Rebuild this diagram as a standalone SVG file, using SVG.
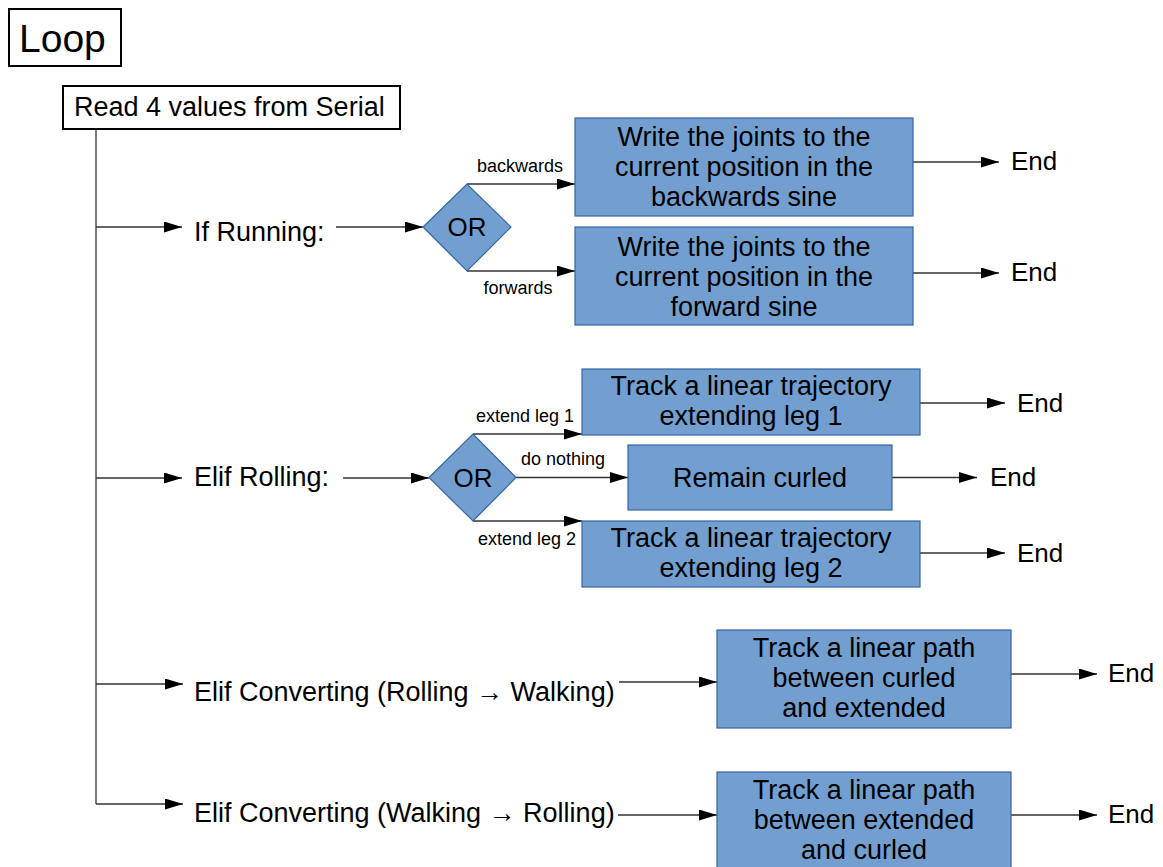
<svg xmlns="http://www.w3.org/2000/svg" width="1163" height="867" viewBox="0 0 1163 867">
<defs>
<marker id="ah" markerUnits="userSpaceOnUse" markerWidth="18" markerHeight="11" refX="18" refY="5.5" orient="auto">
<path d="M0,0 L18,5.5 L0,11 z" fill="#000"/>
</marker>
<style>
text{font-family:"Liberation Sans",Arial,sans-serif;fill:#000}
.big{font-size:27px}
.box{fill:#729fcf;stroke:#3465a4;stroke-width:1.2}
.plain{fill:#fff;stroke:#000;stroke-width:2}
.bt{font-size:27px;text-anchor:middle}
.sm{font-size:18px;text-anchor:middle}
.end{font-size:26px}
.ln{fill:none;stroke:#333;stroke-width:1.3}
.ar{fill:none;stroke:#333;stroke-width:1.3;marker-end:url(#ah)}
</style>
</defs>
<rect width="1163" height="867" fill="#fff"/>

<g id="connectors">
<path class="ln" d="M96,129 V804"/>
<path class="ar" d="M96,227 H182"/>
<path class="ar" d="M336,227 H423"/>
<path class="ar" d="M467,184 H575"/>
<path class="ar" d="M467,271 H575"/>
<path class="ar" d="M913,162 H999"/>
<path class="ar" d="M913,273 H999"/>
<path class="ar" d="M96,478 H182"/>
<path class="ar" d="M343,478 H429"/>
<path class="ar" d="M473,434 H582"/>
<path class="ar" d="M516,477.5 H628"/>
<path class="ar" d="M473,521 H582"/>
<path class="ar" d="M920,403 H1005"/>
<path class="ar" d="M892,477.5 H977"/>
<path class="ar" d="M920,553 H1005"/>
<path class="ar" d="M96,684 H183"/>
<path class="ar" d="M619,682 H717"/>
<path class="ar" d="M1011,674 H1097"/>
<path class="ar" d="M96,804 H183"/>
<path class="ar" d="M618,815 H717"/>
<path class="ar" d="M1011,815 H1097"/>
<text class="sm" x="520" y="172">backwards</text>
<text class="sm" x="518" y="294">forwards</text>
<text class="sm" x="525" y="422">extend leg 1</text>
<text class="sm" x="563" y="465">do nothing</text>
<text class="sm" x="527" y="545">extend leg 2</text>
</g>

<g id="loop">
<rect class="plain" x="9" y="9" width="112" height="57"/>
<text x="19" y="52" font-size="39">Loop</text>
</g>

<g id="read">
<rect class="plain" x="63" y="86" width="337" height="43"/>
<text class="big" x="74" y="116">Read 4 values from Serial</text>
</g>

<g id="if-running">
<text class="big" x="194" y="241">If Running:</text>
</g>
<g id="or1">
<polygon class="box" points="423,227 467,184 511,227 467,271"/>
<text x="467" y="236" font-size="26" text-anchor="middle">OR</text>
</g>
<g id="backwards-box">
<rect class="box" x="575" y="118" width="338" height="98"/>
<text class="bt" x="744" y="146">Write the joints to the</text>
<text class="bt" x="744" y="176">current position in the</text>
<text class="bt" x="744" y="206">backwards sine</text>
</g>
<g id="forward-box">
<rect class="box" x="575" y="227" width="338" height="98"/>
<text class="bt" x="744" y="256">Write the joints to the</text>
<text class="bt" x="744" y="286">current position in the</text>
<text class="bt" x="744" y="316">forward sine</text>
</g>
<g id="end1"><text class="end" x="1011" y="170">End</text></g>
<g id="end2"><text class="end" x="1011" y="281">End</text></g>

<g id="elif-rolling">
<text class="big" x="194" y="486">Elif Rolling:</text>
</g>
<g id="or2">
<polygon class="box" points="429,477.5 473,434 516,477.5 473,521"/>
<text x="473" y="487" font-size="26" text-anchor="middle">OR</text>
</g>
<g id="leg1-box">
<rect class="box" x="582" y="369" width="338" height="66"/>
<text class="bt" x="751" y="395">Track a linear trajectory</text>
<text class="bt" x="751" y="425">extending leg 1</text>
</g>
<g id="curled-box">
<rect class="box" x="628" y="445" width="264" height="65"/>
<text class="bt" x="760" y="487">Remain curled</text>
</g>
<g id="leg2-box">
<rect class="box" x="582" y="521" width="338" height="66"/>
<text class="bt" x="751" y="547">Track a linear trajectory</text>
<text class="bt" x="751" y="577">extending leg 2</text>
</g>
<g id="end3"><text class="end" x="1017" y="412">End</text></g>
<g id="end4"><text class="end" x="990" y="486">End</text></g>
<g id="end5"><text class="end" x="1017" y="562">End</text></g>

<g id="conv-rw">
<text class="big" x="194" y="701">Elif Converting (Rolling → Walking)</text>
</g>
<g id="rw-box">
<rect class="box" x="717" y="630" width="294" height="98"/>
<text class="bt" x="864" y="657">Track a linear path</text>
<text class="bt" x="864" y="687">between curled</text>
<text class="bt" x="864" y="717">and extended</text>
</g>
<g id="end6"><text class="end" x="1108" y="682">End</text></g>

<g id="conv-wr">
<text class="big" x="194" y="822">Elif Converting (Walking → Rolling)</text>
</g>
<g id="wr-box">
<rect class="box" x="717" y="772" width="294" height="98"/>
<text class="bt" x="864" y="799">Track a linear path</text>
<text class="bt" x="864" y="829">between extended</text>
<text class="bt" x="864" y="859">and curled</text>
</g>
<g id="end7"><text class="end" x="1108" y="823">End</text></g>
</svg>
